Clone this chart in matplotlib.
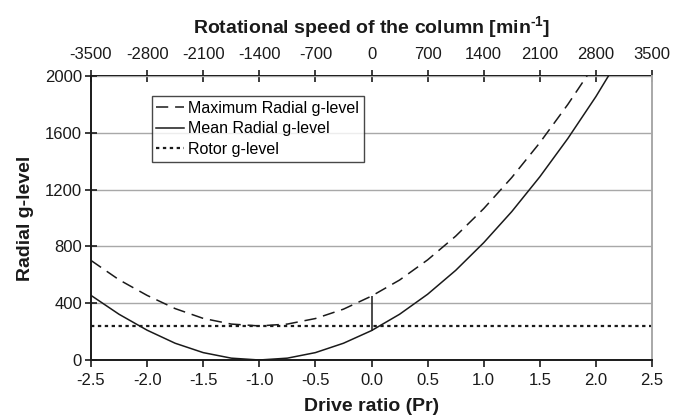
import matplotlib
matplotlib.use('Agg')
import matplotlib.pyplot as plt

plt.rcParams['font.family'] = ['Liberation Sans', 'DejaVu Sans']
plt.rcParams['axes.unicode_minus'] = False
plt.rcParams['mathtext.fontset'] = 'custom'
plt.rcParams['mathtext.rm'] = 'Liberation Sans:bold'
plt.rcParams['mathtext.bf'] = 'Liberation Sans:bold'

# ---- data ----
drive_ratio = [-2.5, -2.25, -2.0, -1.75, -1.5, -1.25, -1.0, -0.75, -0.5, -0.25,
               0.0, 0.25, 0.5, 0.75, 1.0, 1.25, 1.5, 1.75, 2.0, 2.25]
mean_g = [455, 322, 210, 118, 52, 13, 0, 13, 52, 118,
          207, 322, 463, 631, 826, 1045, 1290, 1560, 1855, 2180]
max_g = [701, 565, 455, 362, 293, 253, 240, 253, 292, 358,
         450, 563, 705, 872, 1066, 1285, 1530, 1800, 2095, 2420]
rotor_x = [-2.5, 2.5]
rotor_g = [240, 240]

pr_ticks = [-2.5, -2.0, -1.5, -1.0, -0.5, 0.0, 0.5, 1.0, 1.5, 2.0, 2.5]
rpm_ticks = [-3500, -2800, -2100, -1400, -700, 0, 700, 1400, 2100, 2800, 3500]
g_ticks = [0, 400, 800, 1200, 1600, 2000]

W, H = 680, 418
fig = plt.figure(figsize=(W / 100, H / 100), dpi=100)
L, R, T, B = 91, 652, 76, 360
ax = fig.add_axes([L / W, 1 - B / H, (R - L) / W, (B - T) / H])

ink = '#1a1a1a'
ax.plot(drive_ratio, max_g, color=ink, lw=1.1, dashes=(8, 4.5),
        label='Maximum Radial g-level')
ax.plot(drive_ratio, mean_g, color=ink, lw=1.1, label='Mean Radial g-level')
ax.plot(rotor_x, rotor_g, color=ink, lw=1.6, dashes=(1.5, 1.6),
        label='Rotor g-level')
i0 = drive_ratio.index(0.0)
ax.vlines(drive_ratio[i0], mean_g[i0], max_g[i0], color=ink, lw=1.1)

ax.set_xlim(-2.5, 2.5)
ax.set_ylim(0, 2000)
ax.set_xticks(pr_ticks)
ax.set_xticklabels([f'{v:.1f}' for v in pr_ticks])
ax.set_yticks(g_ticks)
ax.set_yticklabels([str(v) for v in g_ticks])
ax.grid(axis='y', color='#a8a8a8', lw=1.0)
ax.set_axisbelow(True)

for s in ['left', 'bottom']:
    ax.spines[s].set_color(ink)
    ax.spines[s].set_linewidth(1.4)
ax.spines['right'].set_color('#a8a8a8')
ax.spines['right'].set_linewidth(1.4)
ax.spines['top'].set_visible(False)

ax.tick_params(axis='x', direction='out', length=5, width=1.2, labelsize=12,
               pad=4.5, colors=ink)
ax.tick_params(axis='y', direction='inout', length=9, width=1.2, labelsize=12,
               pad=2, colors=ink)

sec = ax.secondary_xaxis('top', functions=(lambda p: p * 1400, lambda r: r / 1400))
sec.set_xticks(rpm_ticks)
sec.set_xticklabels([str(v) for v in rpm_ticks])
sec.tick_params(direction='inout', length=8, width=1.2, labelsize=12, pad=6,
                colors=ink)
sec.spines['top'].set_color(ink)
sec.spines['top'].set_linewidth(1.4)

ax.set_xlabel('Drive ratio (Pr)', fontsize=14, fontweight='bold', labelpad=7,
              color=ink)
ax.set_ylabel('Radial g-level', fontsize=14, fontweight='bold', labelpad=8,
              color=ink)
fig.text((L + R) / 2 / W, 1 - 28 / H,
         r'Rotational speed of the column [min$^{\text{-1}}$]',
         fontsize=14, fontweight='bold', ha='center', va='center', color=ink)

leg = ax.legend(loc='upper left', bbox_to_anchor=(0.108, 0.93),
                borderaxespad=0, frameon=True, fancybox=False,
                fontsize=11.5, handlelength=1.7, handletextpad=0.3,
                labelspacing=0.35, borderpad=0.3)
leg.get_frame().set_edgecolor(ink)
leg.get_frame().set_linewidth(1.0)

fig.savefig('out.png', dpi=100)
